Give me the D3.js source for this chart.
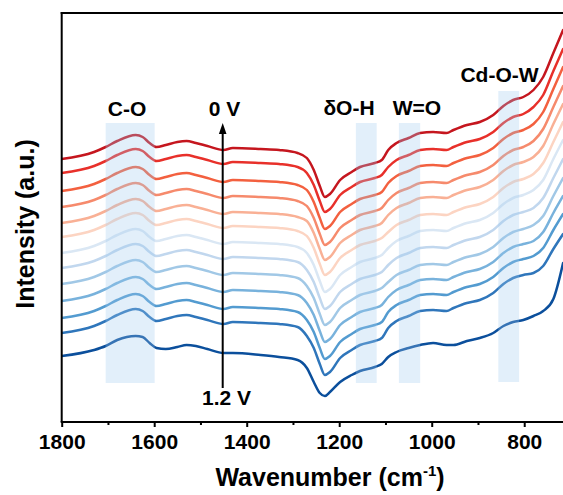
<!DOCTYPE html>
<html><head><meta charset="utf-8">
<script src="https://cdn.jsdelivr.net/npm/d3@7"></script>
<style>body{margin:0;background:#fff}svg{display:block}</style>
</head><body>
<svg id="chart" width="563" height="495"></svg>
<script>
// Wavenumber grid (cm-1)
const wavenumbers = [1800,1730,1705,1680,1640,1625,1610,1595,1575,1550,1530,1510,1485,1450,1430,1370,1330,1290,
  1270,1255,1242,1231,1220,1198,1173,1155,1123,1108,
  1094,1076,1050,1025,997,968,953,924,896,867,845,824,802,
  780,759,737,716];

// Stacked spectra (intensity, a.u.), from 0 V (top) to 1.2 V (bottom)
const s000 = [263,270,275,281,287,285,279,275,277,280,281,279,276,272,274,273,272,269, 264,252,236,225,228,242,250,255,259,262, 272,279,284,289,290,289,292,297,300,307,316,322,325, 332,345,369,392];
const s010 = [249,256,261,267,273,271,265,261,263,266,267,265,262,258,260,259,258,255, 249,237,221,210,213,227,235,240,244,247, 255,262,267,272,273,272,275,280,283,290,299,305,308, 315,327,351,373];
const s020 = [231,238,243,249,255,253,247,243,245,248,249,247,244,240,242,241,240,237, 232,220,204,193,196,210,218,223,227,230, 239,246,251,256,257,256,259,264,267,274,283,289,292, 298,310,333,355];
const s030 = [215,222,227,233,239,237,231,227,229,232,233,231,228,224,226,225,224,221, 216,204,188,177,180,194,202,207,211,214, 222,229,234,239,240,239,242,247,250,257,266,272,275, 281,293,315,336];
const s040 = [199,206,211,217,223,221,215,211,213,216,217,215,212,208,210,209,208,205, 201,189,173,162,165,179,187,192,196,199, 207,214,219,224,225,224,227,232,235,242,251,257,260, 265,276,298,318];
const s050 = [185,192,197,203,209,207,201,197,199,202,203,201,198,194,196,195,194,191, 186,174,158,147,150,164,172,177,181,184, 190,197,202,207,208,207,210,215,218,225,234,240,243, 248,259,280,300];
const s060 = [169,176,181,187,193,191,185,181,183,186,187,185,182,178,180,179,178,175, 169,157,141,130,133,147,155,160,164,167, 174,181,186,191,192,191,194,199,202,209,218,224,227, 232,242,263,282];
const s070 = [154,161,166,172,178,176,170,166,168,171,172,170,167,163,165,164,163,160, 152,140,124,113,116,130,138,143,147,150, 157,164,169,174,175,174,177,182,185,192,201,207,210, 214,224,244,263];
const s080 = [138,145,150,156,162,160,154,150,152,155,156,154,151,147,149,148,147,144, 136,124,108,97,100,114,122,127,131,134, 140,147,152,157,158,157,160,165,168,175,184,190,193, 197,206,226,244];
const s090 = [121,128,133,139,145,143,137,133,135,138,139,137,134,130,132,131,130,127, 119,107,91,80,83,97,105,110,114,117, 125,132,137,142,143,142,145,150,153,160,169,175,178, 181,190,209,226];
const s100 = [104,111,116,122,128,126,120,116,118,121,122,120,117,113,115,114,113,110, 102,90,74,63,66,80,88,93,97,100, 110,117,122,127,128,127,130,135,138,145,154,160,163, 166,174,192,208];
const s110 = [89,96,101,107,113,111,105,101,103,106,107,105,102,98,100,99,98,95, 86,74,58,47,50,64,72,77,81,84, 94,101,106,111,112,111,114,119,122,129,138,144,147, 149,156,173,188];
const s120 = [66,72,76,82,86,85,79,74,73,75,77,76,73,69,69,67,65,62, 54,40,29,26,30,40,47,51,55,58, 65,70,74,77,79,77,77,81,84,89,96,100,102, 106,111,123,159];

const potentials = ["0 V","0.1 V","0.2 V","0.3 V","0.4 V","0.5 V","0.6 V","0.7 V","0.8 V","0.9 V","1.0 V","1.1 V","1.2 V"];
const lineColors = ["#c5161e","#e8302a","#f3603f","#f68a6c","#f9b095","#fcd4c2",
  "#dae7f4","#c1d7ee","#a1c8e6","#78b2dc","#539bd0","#2f76bb","#0b4f9c"];

// Band regions (cm-1)
const bandLabels = ["C-O","δO-H","W=O","Cd-O-W"];
const bandFrom = [1705,1164,1071,856];
const bandTo   = [1599,1119,1025,811];

const majorTicks = [1800,1600,1400,1200,1000,800];
const minorTicks = [1700,1500,1300,1100,900];

const spectra = [s000,s010,s020,s030,s040,s050,s060,s070,s080,s090,s100,s110,s120];

const svg = d3.select("#chart");
const L = 61.7, R = 564, T = 13, B = 422;
const x = d3.scaleLinear().domain([1800, 714]).range([L, R]);
const y = d3.scaleLinear().domain([0, 409]).range([B, T]);
const font = "'Liberation Sans', Arial, Helvetica, sans-serif";

svg.append("defs").append("clipPath").attr("id","clip")
  .append("rect").attr("x",L).attr("y",T).attr("width",R-L).attr("height",B-T);

const line = d3.line().x((d,i)=>x(wavenumbers[i])).y(d=>y(d)).curve(d3.curveMonotoneX);

const g = svg.append("g").attr("clip-path","url(#clip)");
spectra.forEach((s,k)=>{
  g.append("path").datum(s).attr("d",line)
    .attr("fill","none").attr("stroke",lineColors[k]).attr("stroke-width",2.5)
    .attr("stroke-linejoin","round").attr("stroke-linecap","round");
});

// bands on top (semi-transparent)
const bandTop = [123,123,123,91];
const bandBottom = [383,383,383,382];
bandFrom.forEach((f,i)=>{
  svg.append("rect").attr("x",x(f)).attr("width",x(bandTo[i])-x(f))
    .attr("y",bandTop[i]).attr("height",bandBottom[i]-bandTop[i])
    .attr("fill","#9fcbee").attr("fill-opacity",0.3);
});

// frame
svg.append("line").attr("x1",L).attr("x2",L).attr("y1",T-1).attr("y2",B).attr("stroke","#000").attr("stroke-width",2);
svg.append("line").attr("x1",L-1).attr("x2",R+5).attr("y1",T).attr("y2",T).attr("stroke","#000").attr("stroke-width",2);

// x axis
const ax = svg.append("g").attr("transform",`translate(0,${B})`)
  .call(d3.axisBottom(x).tickValues(majorTicks).tickSize(5).tickSizeOuter(0).tickFormat(d3.format("d")));
ax.select(".domain").attr("stroke-width",2).attr("d",`M${L-1},0H${R+5}`);
ax.selectAll(".tick line").attr("stroke-width",2);
ax.selectAll(".tick text").attr("font-family",font).attr("font-weight","bold").attr("font-size",21).attr("dy","0.95em").attr("y",7).attr("fill","#000");
const axm = svg.append("g").attr("transform",`translate(0,${B})`)
  .call(d3.axisBottom(x).tickValues(minorTicks).tickSize(3).tickSizeOuter(0).tickFormat(""));
axm.select(".domain").remove();
axm.selectAll(".tick line").attr("stroke-width",2);

// axis titles
const xt = svg.append("text").attr("x",330).attr("y",486).attr("text-anchor","middle")
  .attr("font-family",font).attr("font-weight","bold").attr("font-size",25);
xt.append("tspan").text("Wavenumber (cm");
xt.append("tspan").text("-1").attr("font-size",15).attr("dy",-10);
xt.append("tspan").text(")").attr("dy",10);

svg.append("text").attr("transform","translate(34,224) rotate(-90)").attr("text-anchor","middle")
  .attr("font-family",font).attr("font-weight","bold").attr("font-size",25).text("Intensity (a.u.)");

// band labels
const labelX = [127,349,417,499.5];
const labelY = [116,115,115,82];
bandLabels.forEach((t,i)=>{
  svg.append("text").attr("x",labelX[i]).attr("y",labelY[i]).attr("text-anchor","middle")
    .attr("font-family",font).attr("font-weight","bold").attr("font-size",21).text(t);
});

// potential arrow
const ax0 = 222.7;
svg.append("line").attr("x1",ax0).attr("x2",ax0).attr("y1",388).attr("y2",131).attr("stroke","#000").attr("stroke-width",2);
svg.append("path").attr("d",`M${ax0},123L${ax0-3.8},134L${ax0+3.8},134Z`).attr("fill","#000");
svg.append("text").attr("x",224.5).attr("y",116).attr("text-anchor","middle")
  .attr("font-family",font).attr("font-weight","bold").attr("font-size",21).text(potentials[0]);
svg.append("text").attr("x",226.5).attr("y",405).attr("text-anchor","middle")
  .attr("font-family",font).attr("font-weight","bold").attr("font-size",21).text(potentials[12]);
</script>
</body></html>
